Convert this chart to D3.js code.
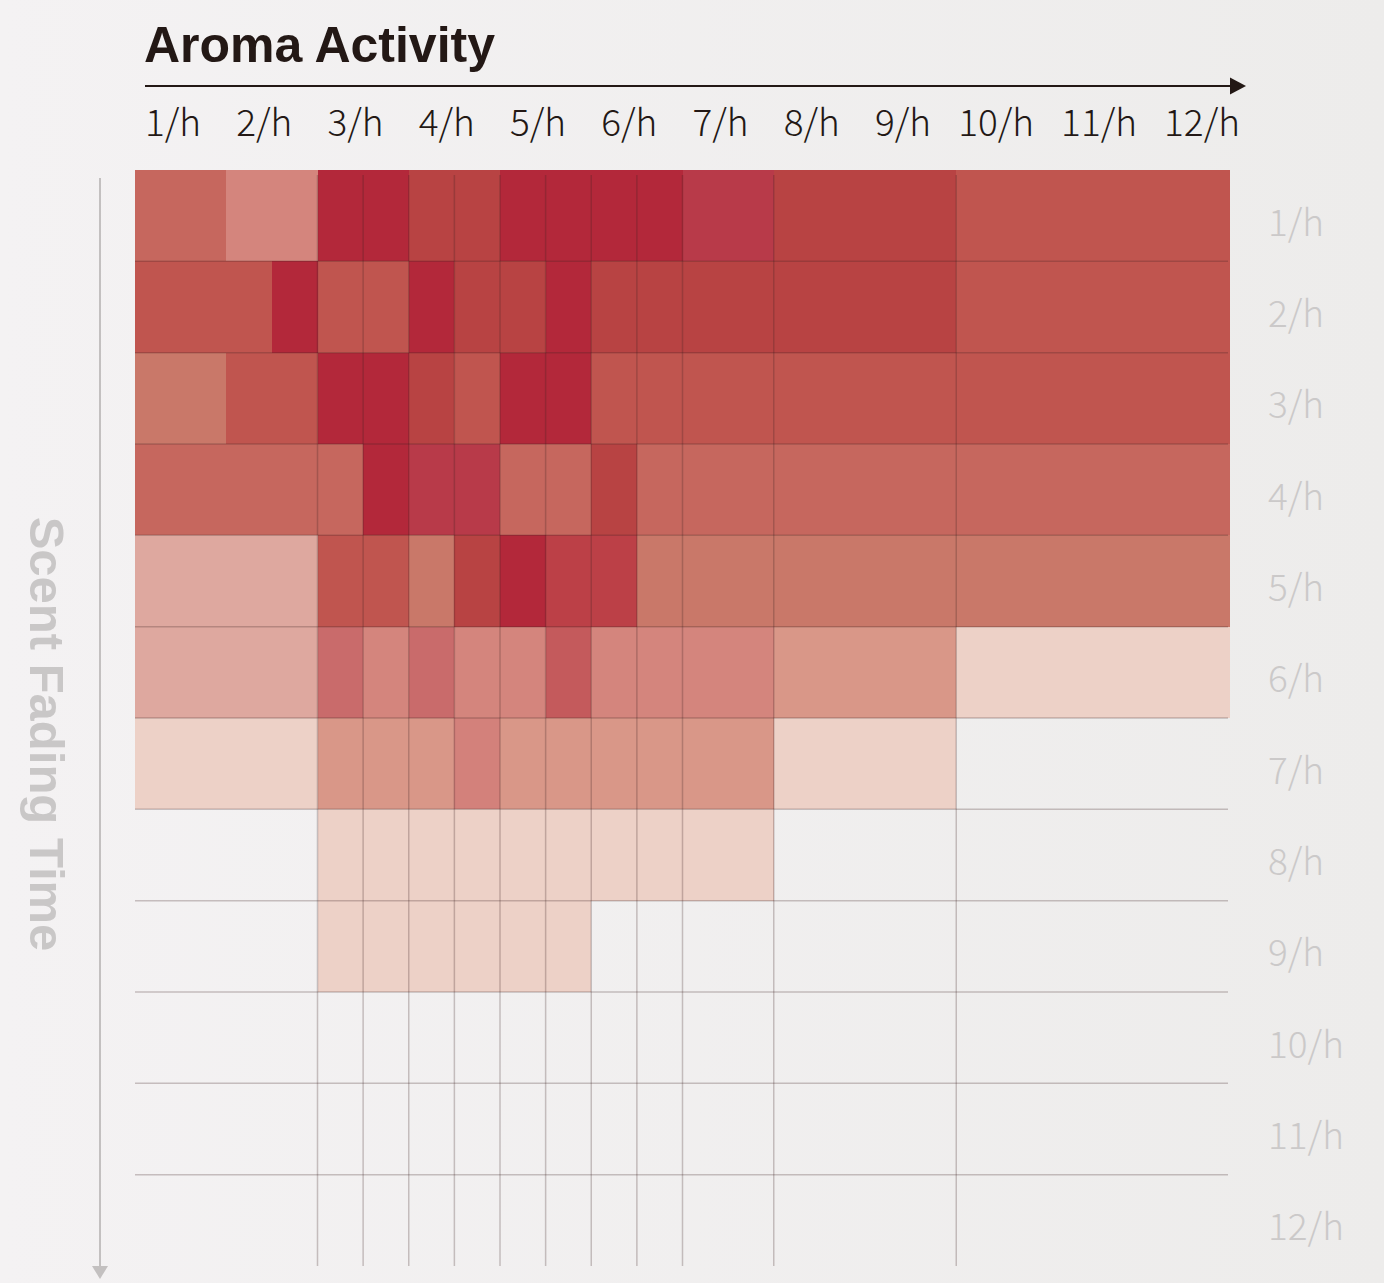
<!DOCTYPE html>
<html>
<head>
<meta charset="utf-8">
<script src="https://cdn.jsdelivr.net/npm/d3@7"></script>
<style>
  body { margin: 0; background: #f2f0f0; }
</style>
</head>
<body>
<script>
const xLabels = ['1/h', '2/h', '3/h', '4/h', '5/h', '6/h', '7/h', '8/h', '9/h', '10/h', '11/h', '12/h'];
const yLabels = ['1/h', '2/h', '3/h', '4/h', '5/h', '6/h', '7/h', '8/h', '9/h', '10/h', '11/h', '12/h'];

// vertical grid edges, in half-steps of the activity axis (0..24)
const gridEdges = [4, 5, 6, 7, 8, 9, 10, 11, 12, 14, 18];

// each cell: [from, to, level]  (level 1 = strongest)
const row1 = [[0, 2, 7], [2, 4, 11], [4, 5, 1], [5, 6, 1], [6, 7, 3], [7, 8, 3], [8, 9, 1], [9, 10, 1], [10, 11, 1], [11, 12, 1], [12, 14, 2], [14, 18, 3], [18, 24, 5]];
const row2 = [[0, 3, 5], [3, 4, 1], [4, 5, 5], [5, 6, 5], [6, 7, 1], [7, 8, 3], [8, 9, 3], [9, 10, 1], [10, 11, 3], [11, 12, 3], [12, 14, 3], [14, 18, 3], [18, 24, 5]];
const row3 = [[0, 2, 9], [2, 4, 5], [4, 5, 1], [5, 6, 1], [6, 7, 3], [7, 8, 5], [8, 9, 1], [9, 10, 1], [10, 11, 5], [11, 12, 5], [12, 14, 5], [14, 18, 5], [18, 24, 5]];
const row4 = [[0, 4, 7], [4, 5, 7], [5, 6, 1], [6, 7, 2], [7, 8, 2], [8, 9, 7], [9, 10, 7], [10, 11, 3], [11, 12, 7], [12, 14, 7], [14, 18, 7], [18, 24, 7]];
const row5 = [[0, 4, 13], [4, 5, 5], [5, 6, 5], [6, 7, 9], [7, 8, 3], [8, 9, 1], [9, 10, 4], [10, 11, 4], [11, 12, 9], [12, 14, 9], [14, 18, 9], [18, 24, 9]];
const row6 = [[0, 4, 13], [4, 5, 8], [5, 6, 11], [6, 7, 8], [7, 8, 11], [8, 9, 11], [9, 10, 6], [10, 11, 11], [11, 12, 11], [12, 14, 11], [14, 18, 12], [18, 24, 14]];
const row7 = [[0, 4, 14], [4, 5, 12], [5, 6, 12], [6, 7, 12], [7, 8, 10], [8, 9, 12], [9, 10, 12], [10, 11, 12], [11, 12, 12], [12, 14, 12], [14, 18, 14]];
const row8 = [[4, 14, 14]];
const row9 = [[4, 10, 14]];
const row10 = [], row11 = [], row12 = [];

const rows = [row1, row2, row3, row4, row5, row6, row7, row8, row9, row10, row11, row12];

const W = 1384, H = 1283;

const color = d3.scaleOrdinal()
    .domain(d3.range(1, 15))
    .range(['#b3283a', '#b83a49', '#b84343', '#bc4047', '#c0554f', '#c45a5c', '#c6675e',
             '#c96b6b', '#c97869', '#d3817b', '#d4857d', '#d99788', '#dea89f', '#edd1c7']);

const x = d3.scaleLinear().domain([0, 24]).range([135, 1230]);
const y = d3.scaleBand().domain(yLabels).range([170, 1266]);

const svg = d3.select('body').append('svg')
    .attr('width', W)
    .attr('height', H);

const defs = svg.append('defs');
const bg = defs.append('linearGradient').attr('id', 'bg');
bg.append('stop').attr('offset', '0%').attr('stop-color', '#f4f2f3');
bg.append('stop').attr('offset', '100%').attr('stop-color', '#edeceb');

svg.append('rect')
    .attr('width', W).attr('height', H)
    .attr('fill', 'url(#bg)');

// cells
const rowGroups = svg.selectAll('g.row')
    .data(rows)
    .enter().append('g')
    .attr('class', 'row')
    .attr('transform', (d, i) => `translate(0, ${y(yLabels[i])})`);

rowGroups.selectAll('rect')
    .data(d => d)
    .enter().append('rect')
    .attr('x', d => x(d[0]))
    .attr('width', d => x(d[1]) - x(d[0]))
    .attr('height', y.bandwidth())
    .attr('fill', d => color(d[2]))
    .attr('shape-rendering', 'crispEdges');

// grid lines
const gridColor = 'rgba(60,30,30,0.25)';
svg.append('g')
    .selectAll('line')
    .data(gridEdges)
    .enter().append('line')
    .attr('x1', d => x(d)).attr('x2', d => x(d))
    .attr('y1', y.range()[0] + 5)
    .attr('y2', y.range()[1])
    .attr('stroke', gridColor)
    .attr('stroke-width', 1.5);

svg.append('g')
    .selectAll('line')
    .data(yLabels.slice(1))
    .enter().append('line')
    .attr('x1', x(0)).attr('x2', x(24) - 2)
    .attr('y1', d => y(d)).attr('y2', d => y(d))
    .attr('stroke', gridColor)
    .attr('stroke-width', 1.5);

// title + top axis
svg.append('text')
    .attr('x', x(0) + 9)
    .attr('y', 62)
    .style('font-family', '"Liberation Sans", Arial, sans-serif')
    .style('font-weight', 'bold')
    .style('font-size', '50px')
    .attr('fill', '#231815')
    .text('Aroma Activity');

const axisY = 86;
svg.append('line')
    .attr('x1', x(0) + 10).attr('x2', x(24) + 2)
    .attr('y1', axisY).attr('y2', axisY)
    .attr('stroke', '#231815')
    .attr('stroke-width', 2);
svg.append('path')
    .attr('d', `M${x(24)},${axisY - 8.5}L${x(24) + 16},${axisY}L${x(24)},${axisY + 8.5}Z`)
    .attr('fill', '#231815');

const topLabels = svg.append('g')
    .selectAll('text')
    .data(xLabels)
    .enter().append('text')
    .attr('y', 136)
    .style('font-family', '"Noto Sans CJK JP", "Noto Sans", sans-serif')
    .style('font-weight', 300)
    .style('font-size', '37px')
    .attr('fill', '#231815')
    .text(d => d);

// single-digit labels sit at their columns, the two-digit ones are spread up to the arrow end
const nodes = topLabels.nodes();
const fixed = 9;
nodes.slice(0, fixed).forEach((n, i) => d3.select(n).attr('x', x(i * 2) + 10));
const restStart = x((fixed - 1) * 2) + 10 + nodes[fixed - 1].getComputedTextLength();
const restNodes = nodes.slice(fixed);
const restWidth = d3.sum(restNodes, n => n.getComputedTextLength());
const gap = (x(24) + 10 - restStart - restWidth) / restNodes.length;
let cursor = restStart;
restNodes.forEach(n => {
    cursor += gap;
    d3.select(n).attr('x', cursor);
    cursor += n.getComputedTextLength();
});

// right labels
svg.append('g')
    .selectAll('text')
    .data(yLabels)
    .enter().append('text')
    .attr('x', x(24) + 38)
    .attr('y', d => y(d) + y.bandwidth() / 2 + 10)
    .attr('dominant-baseline', 'middle')
    .style('font-family', '"Noto Sans CJK JP", "Noto Sans", sans-serif')
    .style('font-weight', 300)
    .style('font-size', '37px')
    .attr('fill', '#cbc9c9')
    .text(d => d);

// left axis
const leftX = 100;
svg.append('line')
    .attr('x1', leftX).attr('x2', leftX)
    .attr('y1', 178).attr('y2', y.range()[1])
    .attr('stroke', '#c3c0c0')
    .attr('stroke-width', 2);
svg.append('path')
    .attr('d', `M${leftX - 8},${y.range()[1]}L${leftX + 8},${y.range()[1]}L${leftX},${y.range()[1] + 13}Z`)
    .attr('fill', '#c3c0c0');

svg.append('text')
    .attr('transform', `translate(30, 734) rotate(90)`)
    .attr('text-anchor', 'middle')
    .style('font-family', '"Liberation Sans", Arial, sans-serif')
    .style('font-weight', 'bold')
    .style('font-size', '49px')
    .attr('fill', '#c9c7c7')
    .text('Scent Fading Time');
</script>
</body>
</html>
